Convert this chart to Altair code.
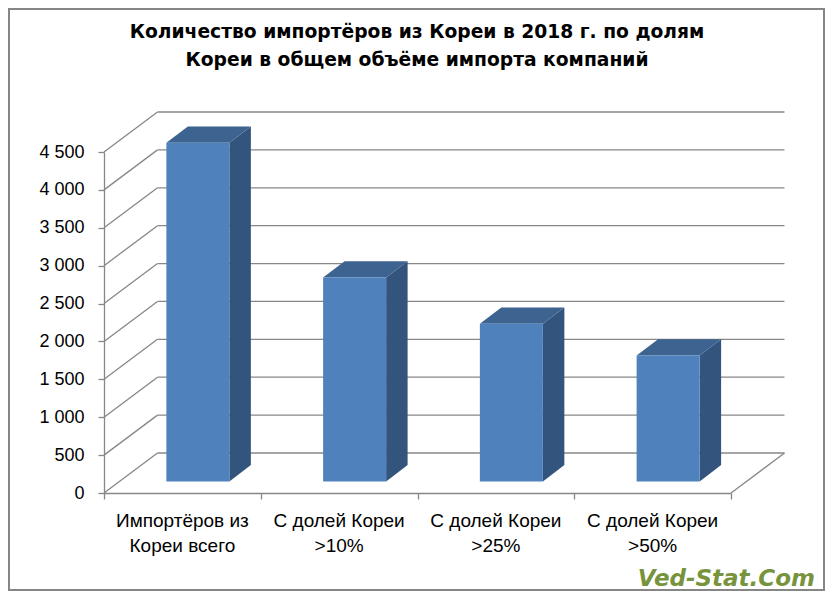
import altair as alt
import pandas as pd

# ---- data ----
categories = ["Импортёров из\nКореи всего", "С долей Кореи\n>10%", "С долей Кореи\n>25%", "С  долей Кореи\n>50%"]
values = [4470, 2690, 2080, 1660]
y_ticks = [0, 500, 1000, 1500, 2000, 2500, 3000, 3500, 4000, 4500]
x_bounds = [0, 1, 2, 3, 4]
title_text = "Количество импортёров из Кореи в 2018 г. по долям\nКореи в общем объёме импорта компаний"
watermark = "Ved-Stat.Com"

# ---- style / geometry constants (pseudo-3D look) ----
W, H = 627, 341
HALF = 0.201          # half width of bar front face (x units)
DXU = 0.137           # bar depth along x (x units)
DYU = 215             # bar depth along y (value units)
MID_DX, MID_DY = 15.5, -11.6   # pixel shift of bar plane
BACK_DX, BACK_DY = 53.5, -40   # pixel shift of back wall
GRID = "#878787"
FONT = "Liberation Sans"

bars = pd.DataFrame({"cat": categories, "idx": list(range(len(categories))), "value": values})
bars["xl"] = bars["idx"] + 0.5 - HALF
bars["xr"] = bars["idx"] + 0.5 + HALF
bars["xc"] = bars["idx"] + 0.5

side_rows, top_rows = [], []
for c, xl, xr, v in zip(bars["cat"], bars["xl"], bars["xr"], bars["value"]):
    side_rows.append({"cat": c, "x": xr, "ylo": 0, "yhi": v})
    side_rows.append({"cat": c, "x": xr + DXU, "ylo": DYU, "yhi": v + DYU})
    top_rows.append({"cat": c, "y": v, "xa": xl, "xb": xr})
    top_rows.append({"cat": c, "y": v + DYU, "xa": xl + DXU, "xb": xr + DXU})
side = pd.DataFrame(side_rows)
top = pd.DataFrame(top_rows)
ticks = pd.DataFrame({"t": y_ticks})
one = pd.DataFrame({"k": [0]})

xs = alt.Scale(domain=[0, 4], nice=False, zero=False)
ys = alt.Scale(domain=[0, 4500], nice=False, zero=True)
xa = alt.Axis(values=x_bounds, labels=False, ticks=True, tickSize=6,
              grid=False, title=None, domainColor=GRID, tickColor=GRID,
              domainWidth=1.3, tickWidth=1.3, zindex=1)
ya = alt.Axis(values=y_ticks, tickSize=6, grid=False, title=None,
              labelExpr="replace(format(datum.value, ','), ',', ' ')",
              labelFont=FONT, labelFontSize=18, labelColor="black",
              labelPadding=14, domainColor=GRID, tickColor=GRID,
              domainWidth=1.3, tickWidth=1.3, zindex=1)

frame = alt.Chart(one).mark_rect(filled=False, stroke="#868686", strokeWidth=2).encode(
    x=alt.value(-95), x2=alt.value(W + 93), y=alt.value(-143), y2=alt.value(H + 97))

back_grid = alt.Chart(ticks).mark_rule(
    color=GRID, strokeWidth=1.3,
    xOffset=BACK_DX, x2Offset=BACK_DX, yOffset=BACK_DY).encode(
    x=alt.X(datum=0, scale=xs, axis=xa), x2=alt.X2(datum=4),
    y=alt.Y("t:Q", scale=ys, axis=ya))

left_wall = alt.Chart(ticks).mark_rule(
    color=GRID, strokeWidth=1.3, x2Offset=BACK_DX, y2Offset=BACK_DY).encode(
    x=alt.X(datum=0, scale=xs, axis=xa), x2=alt.X2(datum=0),
    y=alt.Y("t:Q", scale=ys, axis=ya), y2="t:Q")

floor_right = alt.Chart(one).mark_rule(
    color=GRID, strokeWidth=1.3, x2Offset=BACK_DX, y2Offset=BACK_DY).encode(
    x=alt.X(datum=4, scale=xs, axis=xa), x2=alt.X2(datum=4),
    y=alt.Y(datum=0, scale=ys, axis=ya), y2=alt.Y2(datum=0))

side_face = alt.Chart(side).mark_area(
    orient="vertical", color="#33547c",
    xOffset=MID_DX, x2Offset=MID_DX, yOffset=MID_DY, y2Offset=MID_DY).encode(
    x=alt.X("x:Q", scale=xs, axis=xa),
    y=alt.Y("ylo:Q", scale=ys, axis=ya), y2="yhi:Q",
    detail="cat:N")

top_face = alt.Chart(top).mark_area(
    orient="horizontal", color="#3d6390",
    xOffset=MID_DX, x2Offset=MID_DX, yOffset=MID_DY, y2Offset=MID_DY).encode(
    y=alt.Y("y:Q", scale=ys, axis=ya),
    x=alt.X("xa:Q", scale=xs, axis=xa), x2="xb:Q",
    detail="cat:N")

front_face = alt.Chart(bars).mark_rect(
    color="#4f81bd",
    xOffset=MID_DX, x2Offset=MID_DX, yOffset=MID_DY, y2Offset=MID_DY).encode(
    x=alt.X("xl:Q", scale=xs, axis=xa), x2="xr:Q",
    y=alt.Y("value:Q", scale=ys, axis=ya), y2=alt.Y2(datum=0))

labels = alt.Chart(bars).mark_text(
    lineBreak="\n", font=FONT, fontSize=19, lineHeight=24.3, color="black",
    align="center", baseline="alphabetic").encode(
    x=alt.X("xc:Q", scale=xs, axis=xa), y=alt.value(375.3), text="cat:N")

title = alt.Chart(one).mark_text(
    text=title_text, lineBreak="\n", lineHeight=28.5, align="center", baseline="alphabetic",
    font="DejaVu Sans", fontSize=18.7, fontWeight="bold", color="black").encode(
    x=alt.value(313), y=alt.value(-114.3))

wm = alt.Chart(one).mark_text(
    text=watermark, align="right", baseline="alphabetic", font="DejaVu Sans",
    fontWeight="bold", fontStyle="italic", fontSize=23, color="#77933c").encode(
    x=alt.value(711), y=alt.value(434))

chart = alt.layer(
    frame, back_grid, left_wall, floor_right, side_face, top_face, front_face, labels, title, wm
).properties(
    width=W, height=H,
    autosize=alt.AutoSizeParams(type="none"),
    padding={"left": 96, "top": 144, "right": 94, "bottom": 98},
).configure_view(stroke=None)

chart.save("out.html", embed_options={"renderer": "svg", "actions": False})
